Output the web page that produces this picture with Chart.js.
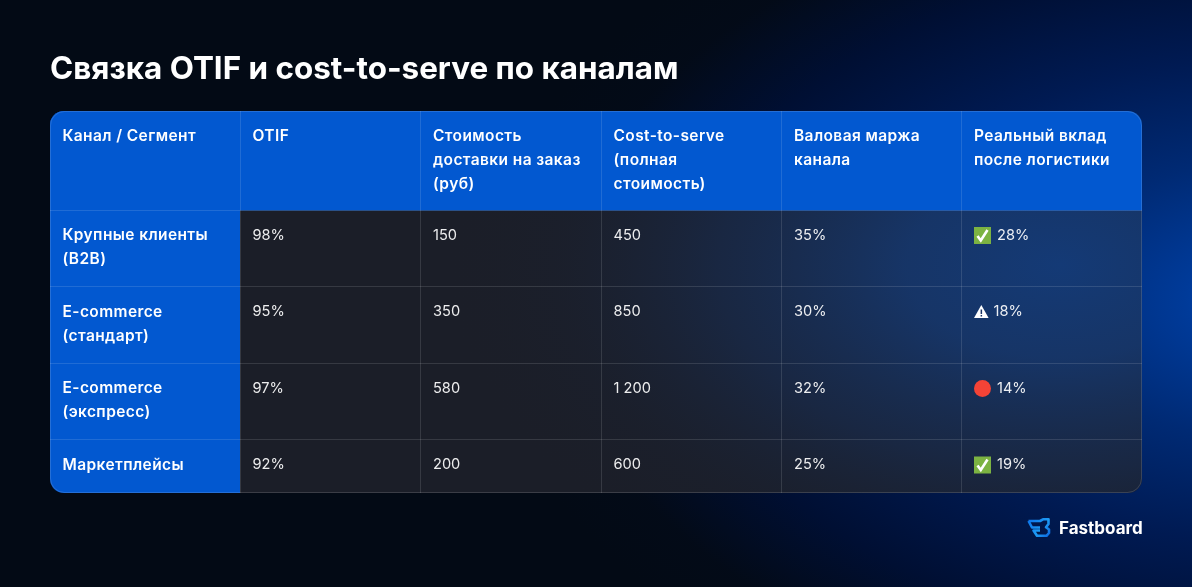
<!DOCTYPE html>
<html lang="ru">
<head>
<meta charset="utf-8">
<title>Связка OTIF и cost-to-serve по каналам</title>
<script src="https://cdn.jsdelivr.net/npm/chart.js@4/dist/chart.umd.min.js"></script>
<style>
    html, body { margin: 0; padding: 0; width: 1192px; height: 587px; overflow: hidden; }
    body {
        background:
            radial-gradient(ellipse 800px 470px at 1280px 300px, #004ab8 0%, #003a98 12%, #002a74 30%, #001a52 52%, #000f33 74%, rgba(3, 11, 26, .5) 90%, rgba(3, 10, 21, 0) 100%),
            #030a15;
    }
    #wrap { position: relative; width: 1192px; height: 587px; }
</style>
</head>
<body>
<div id="wrap"><canvas id="otifTable"></canvas></div>
<script>
// ===== DATA =====
const titleText = 'Связка OTIF и cost-to-serve по каналам';
const headers = [
    ['Канал / Сегмент'],
    ['OTIF'],
    ['Стоимость', 'доставки на заказ', '(руб)'],
    ['Cost-to-serve', '(полная', 'стоимость)'],
    ['Валовая маржа', 'канала'],
    ['Реальный вклад', 'после логистики']
];
const channels = [
    ['Крупные клиенты', '(B2B)'],
    ['E-commerce', '(стандарт)'],
    ['E-commerce', '(экспресс)'],
    ['Маркетплейсы']
];
const otif = [98, 95, 97, 92];
const deliveryCost = [150, 350, 580, 200];
const costToServe = [450, 850, 1200, 600];
const grossMargin = [35, 30, 32, 25];
const netContribution = [28, 18, 14, 19];
const contributionStatus = ['ok', 'warn', 'bad', 'ok'];

// ===== LAYOUT =====
const colWidths = [190, 180.5, 180.5, 180.5, 180, 180.5];
const rowHeights = [99.5, 76.5, 76.5, 76.5, 53];
const cellPadX = 12.5;
const firstLineY = 25;
const lineHeight = 24;
const FONT = 'Inter, "Noto Sans", sans-serif';

const edges = sizes => sizes.reduce((acc, s) => { acc.push(acc[acc.length - 1] + s); return acc; }, [0]);
const colEdges = edges(colWidths);
const rowEdges = edges(rowHeights);
const percent = v => v + '%';
const rub = v => String(v).replace(/\B(?=(\d{3})+$)/g, '\u00a0');

// one scatter dataset per numeric column, the plugin writes the text at each point
const columns = [
    { label: 'OTIF', values: otif, format: percent },
    { label: 'Стоимость доставки', values: deliveryCost, format: rub },
    { label: 'Cost-to-serve', values: costToServe, format: rub },
    { label: 'Валовая маржа', values: grossMargin, format: percent },
    { label: 'Реальный вклад', values: netContribution, format: percent, status: contributionStatus }
];

function drawStatus(ctx, status, x, y) {
    ctx.save();
    if (status === 'ok') {
        ctx.fillStyle = '#7cb342';
        ctx.fillRect(x, y - 8.5, 17, 17);
        ctx.strokeStyle = '#fff';
        ctx.lineWidth = 2.6;
        ctx.beginPath();
        ctx.moveTo(x + 3.5, y + 0.5);
        ctx.lineTo(x + 6.8, y + 5);
        ctx.lineTo(x + 13.5, y - 5.5);
        ctx.stroke();
    } else if (status === 'warn') {
        ctx.fillStyle = '#fff';
        ctx.beginPath();
        ctx.moveTo(x + 7.3, y - 7);
        ctx.lineTo(x + 14.6, y + 6);
        ctx.lineTo(x, y + 6);
        ctx.closePath();
        ctx.fill();
        ctx.fillStyle = '#1a3263';
        ctx.fillRect(x + 6.6, y - 2.5, 1.5, 4.5);
        ctx.fillRect(x + 6.6, y + 3, 1.5, 1.5);
    } else {
        ctx.fillStyle = '#f44336';
        ctx.beginPath();
        ctx.arc(x + 8.5, y, 8.5, 0, Math.PI * 2);
        ctx.fill();
    }
    ctx.restore();
}

const tablePlugin = {
    id: 'tablePlugin',
    beforeDraw(chart) {
        const { ctx, chartArea: a, scales: { x, y } } = chart;
        ctx.save();
        ctx.beginPath();
        ctx.roundRect(a.left, a.top, a.width, a.height, 14);
        ctx.clip();
        // body cells, dark with the blue glow coming through on the right
        ctx.fillStyle = '#1b1e28';
        ctx.fillRect(a.left, a.top, a.width, a.height);
        ctx.save();
        ctx.translate(1060, 265);
        ctx.scale(1, 0.6);
        const glow = ctx.createRadialGradient(0, 0, 0, 0, 0, 620);
        glow.addColorStop(0, 'rgba(20, 58, 118, 1)');
        glow.addColorStop(0.25, 'rgba(22, 54, 106, .95)');
        glow.addColorStop(0.55, 'rgba(24, 44, 80, .65)');
        glow.addColorStop(0.8, 'rgba(26, 34, 52, .3)');
        glow.addColorStop(1, 'rgba(27, 30, 40, 0)');
        ctx.fillStyle = glow;
        ctx.fillRect(-800, -800, 1600, 1600);
        ctx.restore();
        // header row and first column
        ctx.fillStyle = '#0258d0';
        ctx.fillRect(a.left, a.top, a.width, y.getPixelForValue(rowEdges[1]) - a.top);
        ctx.fillRect(a.left, a.top, x.getPixelForValue(colEdges[1]) - a.left, a.height);
        ctx.restore();
    },
    afterDraw(chart) {
        const { ctx, chartArea: a, scales: { x, y } } = chart;
        ctx.save();
        ctx.strokeStyle = 'rgba(255, 255, 255, .14)';
        ctx.lineWidth = 1;
        ctx.beginPath();
        ctx.roundRect(a.left + .5, a.top + .5, a.width - 1, a.height - 1, 14);
        ctx.stroke();

        ctx.textBaseline = 'middle';
        ctx.textAlign = 'left';
        ctx.fillStyle = '#fff';

        // header and first column text
        ctx.font = '600 15.5px ' + FONT;
        ctx.letterSpacing = '0.4px';
        headers.forEach((lines, c) => lines.forEach((line, i) => {
            ctx.fillText(line, x.getPixelForValue(colEdges[c] + cellPadX), y.getPixelForValue(firstLineY + i * lineHeight));
        }));
        channels.forEach((lines, r) => lines.forEach((line, i) => {
            ctx.fillText(line, x.getPixelForValue(cellPadX), y.getPixelForValue(rowEdges[r + 1] + firstLineY + i * lineHeight));
        }));

        // value cells, placed at the dataset points
        ctx.font = '400 14.6px ' + FONT;
        ctx.letterSpacing = '0px';
        ctx.fillStyle = 'rgba(255, 255, 255, .92)';
        columns.forEach((col, c) => {
            chart.getDatasetMeta(c).data.forEach((pt, r) => {
                let tx = pt.x;
                if (col.status) {
                    drawStatus(ctx, col.status[r], tx, pt.y);
                    tx += col.status[r] === 'warn' ? 19.5 : 23;
                }
                ctx.fillText(col.format(col.values[r]), tx, pt.y);
            });
        });

        // brand mark
        ctx.save();
        ctx.translate(1027, 518);
        const g = ctx.createLinearGradient(0, 0, 23, 19);
        g.addColorStop(0, '#0a6fe8');
        g.addColorStop(0.6, '#1e9cf5');
        g.addColorStop(1, '#0a62dc');
        ctx.strokeStyle = g;
        ctx.lineWidth = 2.6;
        ctx.lineJoin = 'round';
        ctx.stroke(new Path2D('M1.5 3 H13 L16 1.3 H21.5 V6 L19 9.3 L22 11.5 V15 L19.5 17.8 H10 L6.5 12.5 H13 M1.5 3 L5 9.5 H13'));
        ctx.restore();
        ctx.font = '700 17px ' + FONT;
        ctx.fillStyle = '#fff';
        ctx.fillText('Fastboard', 1059, 528.5);
        ctx.restore();
    }
};

new Chart(document.getElementById('otifTable'), {
    type: 'scatter',
    data: {
        datasets: columns.map((col, c) => ({
            label: col.label,
            data: col.values.map((v, r) => ({
                x: colEdges[c + 1] + cellPadX,
                y: rowEdges[r + 1] + firstLineY
            })),
            pointRadius: 0,
            pointHoverRadius: 0
        }))
    },
    options: {
        responsive: true,
        maintainAspectRatio: false,
        animation: false,
        events: [],
        layout: { padding: { left: 50, right: 50, top: 50, bottom: 94 } },
        plugins: {
            legend: { display: false },
            tooltip: { enabled: false },
            title: {
                display: true,
                text: titleText,
                align: 'start',
                color: '#fff',
                font: { family: FONT, size: 31.4, weight: '700', lineHeight: 1.2 },
                padding: { top: 1, bottom: 22.3 }
            }
        },
        scales: {
            x: {
                type: 'linear',
                min: 0,
                max: colEdges[colEdges.length - 1],
                afterBuildTicks: axis => { axis.ticks = colEdges.map(value => ({ value })); },
                ticks: { display: false },
                border: { display: false },
                grid: {
                    drawTicks: false,
                    color: c => (c.index === 0 || c.index === colEdges.length - 1) ? 'transparent' : 'rgba(255, 255, 255, .12)'
                }
            },
            y: {
                type: 'linear',
                reverse: true,
                min: 0,
                max: rowEdges[rowEdges.length - 1],
                afterBuildTicks: axis => { axis.ticks = rowEdges.map(value => ({ value })); },
                ticks: { display: false },
                border: { display: false },
                grid: {
                    drawTicks: false,
                    color: c => (c.index === 0 || c.index === rowEdges.length - 1) ? 'transparent' : 'rgba(255, 255, 255, .12)'
                }
            }
        }
    },
    plugins: [tablePlugin]
});
</script>
</body>
</html>
